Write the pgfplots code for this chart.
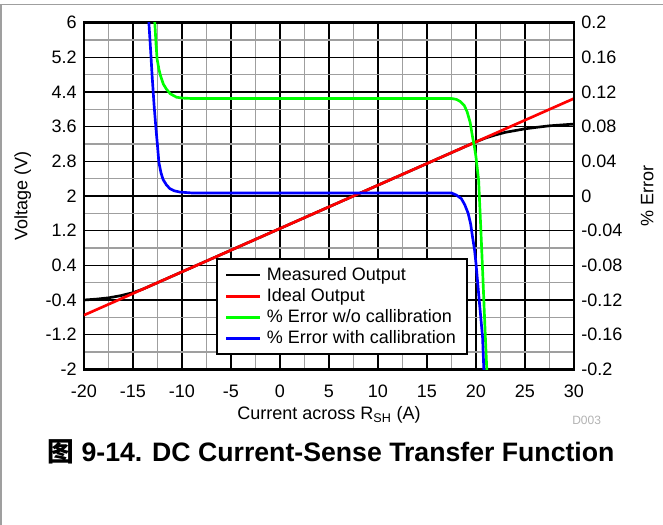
\documentclass[border=0pt]{standalone}
\usepackage{pgfplots}
\usepackage{pgfplotstable}
\pgfplotsset{compat=1.18}
\usepackage{fontspec}
\setmainfont{Liberation Sans}
\newfontfamily\cjk{Noto Sans CJK SC}

% left axis (V)
\pgfplotstableread{
x y
-20 -0.75
30 4.25
}\ideal
\pgfplotstableread{
x y
-20 -0.40
-18.75 -0.38
-17.5 -0.35
-16.25 -0.30
-15 -0.23
-14 -0.15
-13 -0.05
-12 0.05
0 1.25
10 2.25
20 3.25
21 3.34
22 3.41
23 3.47
24 3.51
25 3.55
26 3.58
27.5 3.62
30 3.66
}\measured
% right axis (% error)
\pgfplotstableread{
x y
-12.8 0.205
-12.65 0.175
-12.54 0.158
-12.35 0.146
-12.2 0.139
-11.9 0.129
-11.6 0.1235
-11.2 0.118
-10.56 0.114
-10 0.113
-9 0.1125
17.5 0.1125
18.0 0.1115
18.4 0.109
18.8 0.1045
19.1 0.097
19.4 0.085
19.65 0.068
19.85 0.056
20.0 0.045
20.27 0.018
20.5 -0.04
20.7 -0.093
20.9 -0.148
21.1 -0.2
21.12 -0.21
}\errnocal
\pgfplotstableread{
x y
-13.42 0.21
-13.38 0.2
-13.2 0.168
-13.05 0.139
-12.85 0.105
-12.67 0.0795
-12.5 0.058
-12.36 0.039
-12.15 0.027
-11.93 0.019
-11.6 0.013
-11.24 0.0085
-10.8 0.006
-10.2 0.0045
-9 0.0035
17.5 0.0035
18.0 0.001
18.5 -0.003
18.85 -0.01
19.2 -0.02
19.45 -0.032
19.65 -0.0475
19.85 -0.062
20.0 -0.078
20.33 -0.1205
20.67 -0.163
20.8 -0.2
20.82 -0.21
}\errcal

\pgfplotsset{
  common/.style={
    width=367.5pt, height=260pt, scale only axis,
    at={(0,0)}, anchor=south west,
    xmin=-20, xmax=30,
    tick style={draw=none},
    tick label style={font=\fontsize{13.5}{16}\selectfont},
    label style={font=\fontsize{13.5}{16}\selectfont},
    /pgf/number format/assume math mode=true,
  }
}

\begin{document}
\begin{tikzpicture}
\useasboundingbox (-63pt,-116.5pt) rectangle (434.25pt,277pt);
\draw[gray!75, line width=1.1pt] (-62.3pt,-116.5pt) -- (-62.3pt,273.75pt) -- (434.25pt,273.75pt);

\begin{axis}[common,
    ymin=-2, ymax=6,
    xtick={-20,-15,...,30},
    ytick={-2,-1.2,-0.4,0.4,1.2,2,2.8,3.6,4.4,5.2,6},
    minor x tick num=1, minor y tick num=1,
    grid=both,
    major grid style={black, line width=0.8pt},
    minor grid style={gray!75, line width=0.8pt},
    axis line style={line width=2pt},
    xticklabel style={yshift=-8pt},
    yticklabel style={xshift=-2pt},
    xlabel={Current across R\textsubscript{SH} (A)},
    ylabel={Voltage (V)},
    ylabel style={yshift=4pt},
]
\addplot[black, line width=2pt] table {\measured};
\addplot[red, line width=2pt] table {\ideal};
\end{axis}

\begin{axis}[common,
    ymin=-0.2, ymax=0.2,
    hide x axis,
    axis y line*=right,
    y axis line style={-, line width=2pt},
    ytick={-0.2,-0.16,-0.12,-0.08,-0.04,0,0.04,0.08,0.12,0.16,0.2},
    scaled y ticks=false,
    yticklabel style={xshift=2pt, /pgf/number format/fixed, /pgf/number format/precision=2},
    ylabel={\% Error},
    ylabel style={yshift=-7pt},
    legend style={at={(0.269,0.04)}, anchor=south west, draw=black, line width=1.5pt,
      font=\fontsize{13.5}{16}\selectfont, cells={anchor=west},
      inner xsep=6pt, inner ysep=4.5pt, row sep=0.5pt, column sep=2pt},
    legend image code/.code={\draw[#1, line width=2pt] (0pt,0pt) -- (25.5pt,0pt);},
]
\addlegendimage{black, line width=2pt}
\addlegendimage{red, line width=2pt}
\addplot[green, line width=2pt] table {\errnocal};
\addplot[blue, line width=2pt] table {\errcal};
\legend{Measured Output, Ideal Output, \% Error w/o callibration, \% Error with callibration}
\end{axis}

\node[text=gray!60, font=\fontsize{9}{10}\selectfont] at (377pt,-38pt) {D003};
\node[font=\fontsize{20}{24}\selectfont\bfseries] at (185.25pt,-62pt) {{\cjk\bfseries 图} 9-14. DC Current-Sense Transfer Function};
\end{tikzpicture}
\end{document}
